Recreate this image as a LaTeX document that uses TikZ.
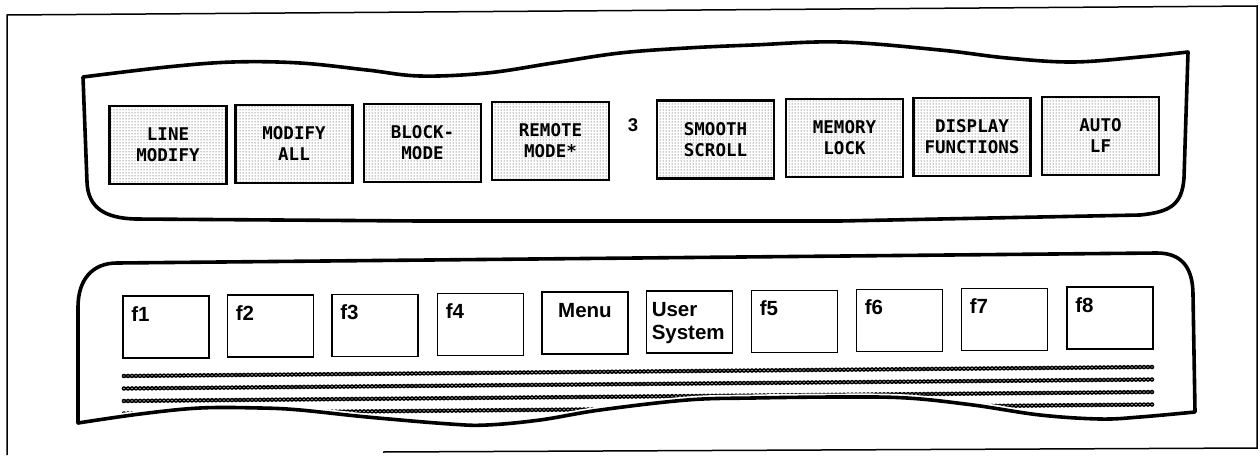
\documentclass[tikz,border=0pt]{standalone}
\usepackage{fontspec}
\setmainfont{Liberation Sans}
\newfontfamily\keymono{DejaVu Sans Mono}
\usetikzlibrary{patterns}
\begin{document}
\begin{tikzpicture}[x=1pt,y=-1pt,
  frame/.style={line width=1.5pt, line join=miter},
  strip/.style={line width=3.6pt, line join=round},
  ukey/.style={draw, line width=2.1pt, pattern=dots, pattern color=black!85,
    minimum width=117pt, minimum height=78pt, inner sep=0pt, align=center,
    font=\keymono\bfseries\fontsize{17.5}{21}\selectfont},
  lkey/.style={draw, line width=1.9pt, minimum width=86pt, minimum height=62pt, inner sep=0pt},
  lab/.style={anchor=base west, inner sep=0pt, font=\bfseries\fontsize{20.5}{23}\selectfont},
  ring/.style={line width=4.6pt, dash pattern=on 0pt off 4pt, line cap=round},
  ringhole/.style={white, line width=1.4pt, dash pattern=on 0pt off 4pt, line cap=round}]
\useasboundingbox (0,0) rectangle (1260,455);

% outer frame
\draw[frame] (383,452) -- (1257,448) -- (1257,6) -- (7,15) -- (7,455);

% upper strip
\draw[strip] plot[smooth,tension=0.6] coordinates {(83,77) (167,67) (233,62) (300,63) (367,70) (420,76) (487,73) (553,63) (620,53) (687,48) (753,45) (840,42) (940,50) (1007,58) (1073,62) (1140,57) (1188,52)}
  -- (1184,178) .. controls (1182,205) and (1170,212) .. (1140,215)
  -- (840,221) -- (420,221) -- (135,219)
  .. controls (105,218) and (88,208) .. (87,182) -- cycle;

% upper keys
\node[ukey] (k1) at (168,145) {LINE\\MODIFY};
\node[ukey] (k2) at (294,144) {MODIFY\\ALL};
\node[ukey] (k3) at (422.5,143) {BLOCK-\\MODE};
\node[ukey] (k4) at (550.5,141) {REMOTE\\MODE*};
\node[font=\bfseries\fontsize{18.5}{21}\selectfont, inner sep=0pt] (three) at (633,125) {3};
\node[ukey] (k5) at (715.5,139.5) {SMOOTH\\SCROLL};
\node[ukey] (k6) at (844.5,138) {MEMORY\\LOCK};
\node[ukey] (k7) at (972,137) {DISPLAY\\FUNCTIONS};
\node[ukey] (k8) at (1100.5,136) {AUTO\\LF};

% lower strip: ring rows
\foreach \i in {0,1,2,3}{
  \draw[ring] (124,{376+12.5*\i}) -- (1154,{367+12.5*\i});
  \draw[ringhole] (124,{376+12.5*\i}) -- (1154,{367+12.5*\i});
}
% cover below the wave
\def\wave{(78,423) (140,414) (200,408) (260,408) (300,410) (367,417) (450,424) (487,425) (540,420) (600,410) (687,400) (753,398) (840,397) (907,398) (973,405) (1040,415) (1100,419) (1140,417) (1195,412)}
\fill[white] plot[smooth,tension=0.6] coordinates {\wave} -- (1200,445) -- (70,445) -- cycle;
\draw[white, line width=7pt] plot[smooth,tension=0.6] coordinates {\wave};

% lower strip outline
\draw[strip] plot[smooth,tension=0.6] coordinates {\wave}
  -- (1193,295) .. controls (1193,268) and (1182,253) .. (1157,253)
  -- (117,263) .. controls (92,263) and (78,280) .. (78,307) -- cycle;

% lower keys
\node[lkey] (f1) at (166,327) {};
\node[lkey] (f2) at (270.5,326) {};
\node[lkey] (f3) at (375,325.5) {};
\node[lkey] (f4) at (480.5,324.5) {};
\node[lkey] (menu) at (585,323) {};
\node[lkey] (us) at (689.5,322) {};
\node[lkey] (f5) at (794.5,321.5) {};
\node[lkey] (f6) at (899.5,320.5) {};
\node[lkey] (f7) at (1004.5,319.5) {};
\node[lkey] (f8) at (1110,318) {};

\node[lab] (f1l) at ([xshift=9pt,yshift=-26pt]f1.north west) {f1};
\node[lab] (f2l) at ([xshift=9pt,yshift=-26pt]f2.north west) {f2};
\node[lab] (f3l) at ([xshift=9pt,yshift=-26pt]f3.north west) {f3};
\node[lab] (f4l) at ([xshift=9pt,yshift=-26pt]f4.north west) {f4};
\node[lab, anchor=base] (menul) at ([yshift=-26pt]menu.north) {Menu};
\node[lab] (usl1) at ([xshift=6pt,yshift=-26pt]us.north west) {User};
\node[lab] (usl2) at ([xshift=6pt,yshift=-49pt]us.north west) {System};
\node[lab] (f5l) at ([xshift=9pt,yshift=-26pt]f5.north west) {f5};
\node[lab] (f6l) at ([xshift=9pt,yshift=-26pt]f6.north west) {f6};
\node[lab] (f7l) at ([xshift=9pt,yshift=-26pt]f7.north west) {f7};
\node[lab] (f8l) at ([xshift=9pt,yshift=-26pt]f8.north west) {f8};
\end{tikzpicture}
\end{document}
